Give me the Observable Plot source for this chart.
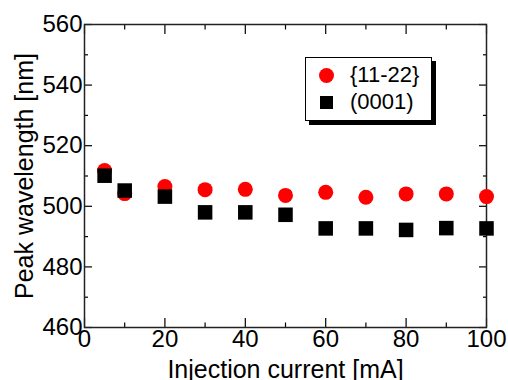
<!DOCTYPE html>
<html>
<head>
<meta charset="utf-8">
<script src="https://cdn.jsdelivr.net/npm/d3@7"></script>
<script src="https://cdn.jsdelivr.net/npm/@observablehq/plot@0.6"></script>
<style>
  html, body { margin: 0; padding: 0; background: #fff; }
  #wrap { position: relative; width: 508px; height: 380px; overflow: hidden; font-family: "Liberation Sans", Arial, sans-serif; }
  #legend { position: absolute; left: 305px; top: 57px; width: 127px; height: 64px; background: #fff; border: 1px solid #000; box-shadow: 4px 4px 0 #000; box-sizing: border-box; }
  .row { position: absolute; left: 0; height: 26px; display: flex; align-items: center; font-size: 22px; color: #000; }
  .sym { width: 40px; display: flex; justify-content: center; align-items: center; }
</style>
</head>
<body>
<div id="wrap"></div>
<script>
const current = [5, 10, 20, 30, 40, 50, 60, 70, 80, 90, 100];
const semipolar = [511.8, 504.2, 506.5, 505.5, 505.6, 503.6, 504.6, 503.0, 504.1, 504.1, 503.2];
const polar = [510.1, 505.2, 503.2, 498.0, 498.0, 497.2, 492.7, 492.7, 492.2, 492.8, 492.7];
const seriesNames = ["{11-22}", "(0001)"];
const xMajor = [0, 20, 40, 60, 80, 100];
const xMinor = [10, 30, 50, 70, 90];
const yMajor = [460, 480, 500, 520, 540, 560];
const yMinor = [470, 490, 510, 530, 550];

const dataA = current.map((x, i) => ({x, y: semipolar[i]}));
const dataB = current.map((x, i) => ({x, y: polar[i]}));

const font = "Liberation Sans, Arial, sans-serif";
const chart = Plot.plot({
  width: 508,
  height: 380,
  marginLeft: 84,
  marginRight: 22,
  marginTop: 24,
  marginBottom: 53,
  style: {fontFamily: font, fontSize: "24px", color: "#000", background: "#fff", overflow: "visible"},
  x: {domain: [0, 100]},
  y: {domain: [460, 560]},
  marks: [
    // tick marks, inward
    Plot.axisX({ticks: xMajor, tickSize: -9, tickFormat: () => "", label: null, strokeWidth: 1.2}),
    Plot.axisX({ticks: xMinor, tickSize: -4.5, tickFormat: () => "", label: null, strokeWidth: 1.2}),
    Plot.axisX({anchor: "top", ticks: xMajor, tickSize: -9, tickFormat: () => "", label: null, strokeWidth: 1.2}),
    Plot.axisX({anchor: "top", ticks: xMinor, tickSize: -4.5, tickFormat: () => "", label: null, strokeWidth: 1.2}),
    Plot.axisY({ticks: yMajor, tickSize: -8, tickFormat: () => "", label: null, strokeWidth: 1.2}),
    Plot.axisY({ticks: yMinor, tickSize: -4, tickFormat: () => "", label: null, strokeWidth: 1.2}),
    Plot.axisY({anchor: "right", ticks: yMajor, tickSize: -8, tickFormat: () => "", label: null, strokeWidth: 1.2}),
    Plot.axisY({anchor: "right", ticks: yMinor, tickSize: -4, tickFormat: () => "", label: null, strokeWidth: 1.2}),
    // labels
    Plot.axisX({ticks: xMajor, tickSize: 0, tickPadding: 2, fontSize: 24, label: null}),
    Plot.axisX({ticks: [], tickSize: 0, fontSize: 25, label: "Injection current [mA]", labelAnchor: "center", labelArrow: "none", labelOffset: 50}),
    Plot.axisY({ticks: yMajor, tickSize: 0, tickPadding: 2, fontSize: 24, label: null}),
    Plot.axisY({ticks: [], tickSize: 0, fontSize: 25, label: "Peak wavelength [nm]", labelAnchor: "center", labelArrow: "none", labelOffset: 69}),
    Plot.frame({stroke: "#222", strokeWidth: 1.5}),
    Plot.dot(dataA, {x: "x", y: "y", r: 7.5, fill: "#ff0000", stroke: "none", symbol: "circle"}),
    Plot.dot(dataB, {x: "x", y: "y", r: 8.2, fill: "#000", stroke: "none", symbol: "square"})
  ]
});
const wrap = document.getElementById("wrap");
wrap.appendChild(chart);

const legend = document.createElement("div");
legend.id = "legend";
legend.innerHTML = `
  <div class="row" style="top:4px"><div class="sym"><div style="width:15px;height:15px;border-radius:50%;background:#ff0000"></div></div><span style="margin-left:4px">${seriesNames[0]}</span></div>
  <div class="row" style="top:31px"><div class="sym"><div style="width:13px;height:13px;background:#000"></div></div><span style="margin-left:4px">${seriesNames[1]}</span></div>`;
wrap.appendChild(legend);
</script>
</body>
</html>
